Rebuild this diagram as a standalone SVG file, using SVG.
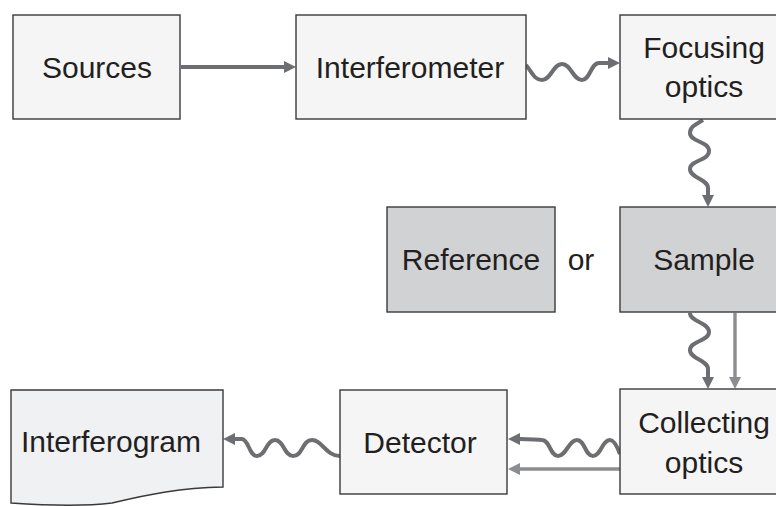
<svg xmlns="http://www.w3.org/2000/svg" width="776" height="506" viewBox="0 0 776 506">
<defs>
<style>
.box{fill:#f5f5f5;stroke:#3a3a3a;stroke-width:1.4}
.dark{fill:#d1d2d4;stroke:#3a3a3a;stroke-width:1.4}
.doc{fill:#f0f1f3;stroke:#3a3a3a;stroke-width:1.4}
text{font-family:"Liberation Sans",Arial,sans-serif;font-size:30px;fill:#231f20;text-anchor:middle}
.c1{fill:none;stroke:#6d6e71;stroke-width:4}
.c2{fill:none;stroke:#8c8d90;stroke-width:3.4}
</style>
<marker id="a1" markerUnits="userSpaceOnUse" markerWidth="14" markerHeight="14" viewBox="0 -7 14 14" refX="0" refY="0" orient="auto">
<path d="M0,-6 L12,0 L0,6 z" fill="#6d6e71"/>
</marker>
<marker id="a2" markerUnits="userSpaceOnUse" markerWidth="14" markerHeight="14" viewBox="0 -7 14 14" refX="0" refY="0" orient="auto">
<path d="M0,-6 L12,0 L0,6 z" fill="#8c8d90"/>
</marker>
</defs>
<rect width="776" height="506" fill="#ffffff"/>
<g id="connectors">
<path class="c1" d="M181,67 L284,67" marker-end="url(#a1)"/>
<path class="c1" d="M526,65 C532,72 534,80 542,80 C551,80 553,64 562,64 C571,64 573,80 582,80 C590,80 591,63 599,63 L608,63" marker-end="url(#a1)"/>
<path class="c1" d="M703,120 C697,124 690,126 690,133 C690,142 709,141 709,151 C709,161 690,160 690,169 C690,178 708,179 708,188 L708,195" marker-end="url(#a1)"/>
<path class="c1" d="M690,313 C690,322 709,322 709,332 C709,341 690,341 690,350 C690,359 708,360 708,369 L708,377" marker-end="url(#a1)"/>
<path class="c2" d="M735,313 L735,377" marker-end="url(#a2)"/>
<path class="c1" d="M620,454 C617,446 614,440 610,440 C602,440 601,456 593,456 C585,456 585,440 577,440 C569,440 566,456 558,456 C550,456 550,440 542,440 C536,440 530,439 520,439" marker-end="url(#a1)"/>
<path class="c2" d="M620,469 L520,469" marker-end="url(#a2)"/>
<path class="c1" d="M340,456 C326,456 322,440 312,440 C302,440 303,456 293,456 C284,456 284,440 275,440 C266,440 266,456 257,456 C249,456 249,440 242,439 L235,439" marker-end="url(#a1)"/>
</g>
<g id="sources">
<rect class="box" x="13" y="15" width="167" height="104"/>
<text x="97" y="78">Sources</text>
</g>
<g id="interferometer">
<rect class="box" x="296" y="15" width="230" height="104"/>
<text x="410" y="78">Interferometer</text>
</g>
<g id="focusing">
<rect class="box" x="620" y="15" width="167" height="104"/>
<text x="704" y="58">Focusing</text>
<text x="704" y="97">optics</text>
</g>
<g id="reference">
<rect class="dark" x="387" y="207" width="168" height="105"/>
<text x="471" y="270">Reference</text>
</g>
<g id="or">
<text x="581" y="270">or</text>
</g>
<g id="sample">
<rect class="dark" x="620" y="207" width="167" height="105"/>
<text x="704" y="270">Sample</text>
</g>
<g id="collecting">
<rect class="box" x="620" y="389" width="167" height="105"/>
<text x="704" y="433">Collecting</text>
<text x="704" y="473">optics</text>
</g>
<g id="detector">
<rect class="box" x="340" y="390" width="167" height="104"/>
<text x="420" y="453">Detector</text>
</g>
<g id="interferogram">
<path class="doc" d="M11,390 H223 V487 C180,488 150,494 112,503 C80,507 40,505 11,503 Z"/>
<text x="111" y="452">Interferogram</text>
</g>
</svg>
